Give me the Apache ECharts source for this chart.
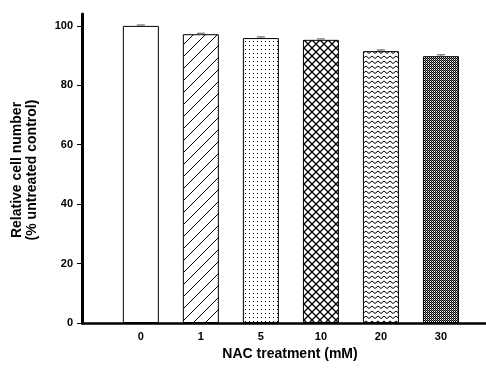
<!DOCTYPE html>
<html>
<head>
<meta charset="utf-8">
<script src="https://cdn.jsdelivr.net/npm/echarts@6/dist/echarts.min.js"></script>
<style>
  html, body { margin: 0; padding: 0; background: #fff; }
  #chart { width: 486px; height: 369px; }
</style>
</head>
<body>
<div id="chart"></div>
<script>
// 数据
var categories = ['0', '1', '5', '10', '20', '30'];
var values = [100, 97.2, 95.9, 95.3, 91.5, 89.8];
var errors = [0.3, 0.3, 0.4, 0.3, 0.4, 0.5];
var yTicks = [0, 20, 40, 60, 80, 100];

// 填充纹理
function makePattern(w, h, draw) {
    var c = document.createElement('canvas');
    c.width = w; c.height = h;
    var ctx = c.getContext('2d');
    ctx.fillStyle = '#fff';
    ctx.fillRect(0, 0, w, h);
    ctx.strokeStyle = '#000';
    ctx.fillStyle = '#000';
    draw(ctx);
    return { image: c, repeat: 'repeat' };
}
var fills = [
    '#fff',
    makePattern(12, 12, function (ctx) {      // 斜线
        ctx.lineWidth = 1;
        ctx.beginPath();
        ctx.moveTo(-1, 13); ctx.lineTo(13, -1);
        ctx.moveTo(-1, 1); ctx.lineTo(1, -1);
        ctx.moveTo(11, 13); ctx.lineTo(13, 11);
        ctx.stroke();
    }),
    makePattern(4, 4, function (ctx) {        // 点
        ctx.fillRect(1, 1, 1, 1);
    }),
    makePattern(8, 8, function (ctx) {        // 网格
        ctx.lineWidth = 1.3;
        ctx.beginPath();
        ctx.moveTo(0, 0); ctx.lineTo(8, 8);
        ctx.moveTo(0, 8); ctx.lineTo(8, 0);
        ctx.stroke();
    }),
    makePattern(6, 5, function (ctx) {        // 波纹
        ctx.lineWidth = 1;
        ctx.beginPath();
        ctx.moveTo(0, 1); ctx.lineTo(3, 3.5); ctx.lineTo(6, 1);
        ctx.stroke();
    }),
    makePattern(2, 2, function (ctx) {        // 密集棋盘
        ctx.fillRect(0, 0, 1, 1);
        ctx.fillRect(1, 1, 1, 1);
        ctx.globalAlpha = 0.5;
        ctx.fillRect(1, 0, 1, 1);
    })
];

var barData = values.map(function (v, i) {
    return { value: [i, v], itemStyle: { color: fills[i] } };
});
var errData = values.map(function (v, i) {
    return [i, v, errors[i]];
});

var myChart = echarts.init(document.getElementById('chart'));
var option = {
    animation: false,
    backgroundColor: '#fff',
    textStyle: { fontFamily: 'Liberation Sans, Arial, sans-serif' },
    grid: { left: 82, right: 0, top: 14, bottom: 46 },
    xAxis: {
        type: 'value',
        min: -0.98,
        max: 5.75,
        splitLine: { show: false },
        axisTick: { show: false },
        axisLine: { lineStyle: { color: '#000', width: 2.5 } },
        axisLabel: {
            customValues: [0, 1, 2, 3, 4, 5],
            color: '#000', fontWeight: 'bold', fontSize: 11, margin: 8,
            formatter: function (v) { return categories[Math.round(v)] || ''; }
        },
        name: 'NAC treatment (mM)',
        nameLocation: 'middle',
        nameGap: 20,
        nameTextStyle: { color: '#000', fontWeight: 'bold', fontSize: 14, padding: [0, 0, 0, 12] }
    },
    yAxis: {
        type: 'value',
        min: 0,
        max: 104,
        splitLine: { show: false },
        axisLine: { show: true, onZero: false, lineStyle: { color: '#000', width: 3 } },
        axisTick: { show: true, customValues: yTicks, length: 5, lineStyle: { color: '#000', width: 1 } },
        axisLabel: { customValues: yTicks, color: '#000', fontWeight: 'bold', fontSize: 11, margin: 9 },
        name: 'Relative cell number\n(% untreated control)',
        nameLocation: 'middle',
        nameGap: 42,
        nameRotate: 90,
        nameTextStyle: { color: '#000', fontWeight: 'bold', fontSize: 14, lineHeight: 15, padding: [0, 0, 0, -3] }
    },
    series: [
        {
            type: 'bar',
            barWidth: 36,
            data: barData,
            itemStyle: { borderColor: '#000', borderWidth: 1 }
        },
        {
            type: 'custom',
            data: errData,
            z: 3,
            renderItem: function (params, api) {
                var x = api.value(0), y = api.value(1), e = api.value(2);
                var hi = api.coord([x, y + e]);
                var lo = api.coord([x, y]);
                var style = { stroke: '#888', lineWidth: 1.5 };
                return {
                    type: 'group',
                    children: [
                        { type: 'line', shape: { x1: hi[0], y1: hi[1], x2: lo[0], y2: lo[1] }, style: style },
                        { type: 'line', shape: { x1: hi[0] - 4, y1: hi[1], x2: hi[0] + 4, y2: hi[1] }, style: style }
                    ]
                };
            }
        }
    ]
};
myChart.setOption(option);
</script>
</body>
</html>
